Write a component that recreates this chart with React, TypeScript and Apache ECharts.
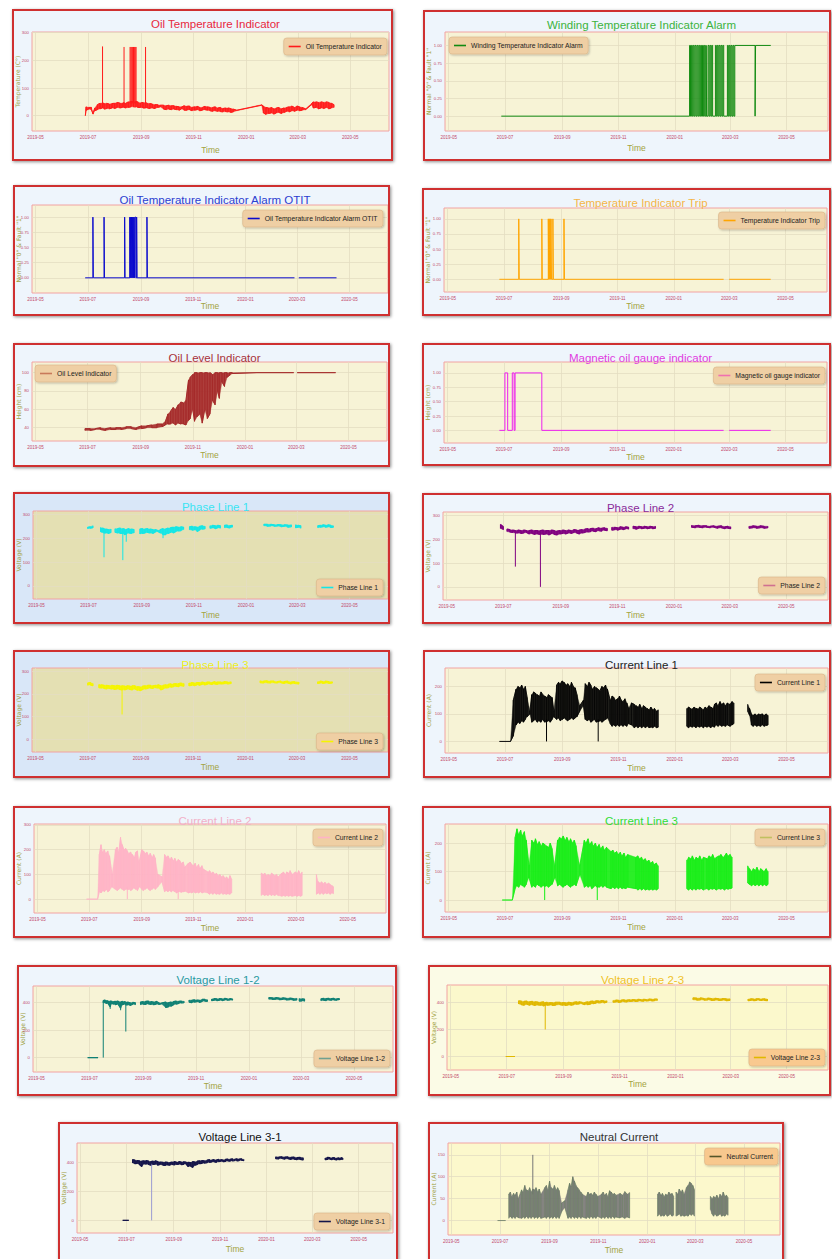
import React, { useEffect, useRef } from 'react';
import * as echarts from 'echarts';

// ---------- axis ticks ----------
const xTickDates = ['2019-05-01', '2019-07-01', '2019-09-01', '2019-11-01', '2020-01-01', '2020-03-01', '2020-05-01'];
const xMinDate = '2019-04-27';
const xMaxDate = '2020-06-15';
const binaryTicks = [0, 0.25, 0.5, 0.75, 1];
const tempTicks = [0, 100, 200, 300];
const levelTicks = [40, 60, 80, 100];
const phaseTicks = [0, 100, 200, 300];
const currentTicks = [0, 100, 200];
const current2Ticks = [0, 100, 200, 300];
const lineVoltTicks = [0, 200, 400];
const neutralTicks = [0, 50, 100, 150];

// ---------- data: bands are [date, low, high], null = gap; spikes are [date, from, to] ----------
const oilTempBand = [
  ['2019-06-28', 0, 0], ['2019-06-29', 20, 32], ['2019-07-02', 24, 30], ['2019-07-05', 22, 30], ['2019-07-07', 6, 10],
  ['2019-07-09', 18, 28], ['2019-07-12', 22, 40], ['2019-07-15', 25, 45], ['2019-07-18', 28, 46], ['2019-07-20', 24, 44],
  ['2019-07-23', 26, 45], ['2019-07-26', 25, 42], ['2019-07-29', 28, 44], ['2019-08-01', 26, 45], ['2019-08-04', 30, 48],
  ['2019-08-07', 28, 46], ['2019-08-10', 30, 45], ['2019-08-12', 30, 47], ['2019-08-14', 28, 45], ['2019-08-17', 30, 50],
  ['2019-08-20', 32, 52], ['2019-08-23', 32, 50], ['2019-08-26', 32, 52], ['2019-08-28', 30, 50], ['2019-08-31', 30, 46],
  ['2019-09-03', 28, 48], ['2019-09-06', 28, 47], ['2019-09-08', 28, 45], ['2019-09-11', 26, 44], ['2019-09-14', 28, 42],
  ['2019-09-17', 26, 40], ['2019-09-20', 30, 40], ['2019-09-23', 32, 38], ['2019-09-27', 24, 38], ['2019-09-30', 22, 36],
  ['2019-10-03', 24, 38], ['2019-10-06', 22, 36], ['2019-10-09', 24, 36], ['2019-10-12', 22, 34], ['2019-10-15', 20, 32],
  ['2019-10-18', 25, 32], ['2019-10-21', 20, 36], ['2019-10-24', 20, 34], ['2019-10-27', 22, 35], ['2019-10-30', 18, 30],
  ['2019-11-02', 20, 32], ['2019-11-05', 22, 34], ['2019-11-08', 18, 30], ['2019-11-11', 20, 30], ['2019-11-14', 22, 34],
  ['2019-11-17', 20, 32], ['2019-11-20', 18, 30], ['2019-11-23', 16, 30], ['2019-11-26', 18, 32], ['2019-11-29', 16, 28],
  ['2019-12-02', 15, 30], ['2019-12-05', 14, 26], ['2019-12-08', 15, 28], ['2019-12-11', 14, 28], ['2019-12-14', 12, 26],
  ['2019-12-17', 14, 24], ['2019-12-21', 18, 20], ['2020-01-19', 38, 40], ['2020-01-21', 10, 35], ['2020-01-24', 5, 30],
  ['2020-01-27', 8, 28], ['2020-01-30', 10, 30], ['2020-02-02', 6, 25], ['2020-02-05', 10, 28], ['2020-02-08', 12, 30],
  ['2020-02-11', 8, 25], ['2020-02-14', 12, 28], ['2020-02-17', 16, 30], ['2020-02-20', 14, 32], ['2020-02-23', 18, 35],
  ['2020-02-26', 16, 30], ['2020-02-29', 20, 35], ['2020-03-03', 18, 32], ['2020-03-06', 20, 30], ['2020-03-10', 22, 25],
  ['2020-03-17', 40, 44], ['2020-03-19', 28, 50], ['2020-03-22', 30, 50], ['2020-03-25', 25, 48], ['2020-03-28', 28, 50],
  ['2020-03-31', 26, 48], ['2020-04-03', 30, 50], ['2020-04-06', 25, 48], ['2020-04-09', 28, 45], ['2020-04-12', 30, 40],
];
const oilTempSpikes = [
  ['2019-07-18', 40, 250], ['2019-08-12', 42, 248], ['2019-08-19', 45, 248], ['2019-08-20', 45, 248],
  ['2019-08-21', 45, 248], ['2019-08-22', 45, 248], ['2019-08-23', 45, 248], ['2019-08-24', 45, 248],
  ['2019-08-25', 45, 248], ['2019-08-26', 45, 248], ['2019-09-06', 42, 248],
];

const oilLevelBand = [
  ['2019-06-28', 37, 39], ['2019-07-04', 37, 39], ['2019-07-10', 38, 39], ['2019-07-16', 38, 40], ['2019-07-22', 37, 39],
  ['2019-07-28', 38, 40], ['2019-08-03', 38, 40], ['2019-08-09', 38, 40], ['2019-08-15', 39, 41], ['2019-08-21', 39, 41],
  ['2019-08-27', 38, 40], ['2019-09-02', 39, 42], ['2019-09-08', 40, 42], ['2019-09-14', 40, 43], ['2019-09-20', 40, 44],
  ['2019-09-26', 41, 44], ['2019-09-30', 43, 47], ['2019-10-03', 44, 55], ['2019-10-06', 44, 58], ['2019-10-09', 45, 62],
  ['2019-10-12', 43, 60], ['2019-10-15', 45, 65], ['2019-10-18', 44, 68], ['2019-10-21', 44, 67], ['2019-10-24', 43, 70],
  ['2019-10-27', 48, 92], ['2019-10-29', 50, 95], ['2019-11-01', 60, 98], ['2019-11-03', 47, 100], ['2019-11-06', 52, 100],
  ['2019-11-09', 55, 100], ['2019-11-12', 45, 100], ['2019-11-15', 60, 100], ['2019-11-18', 50, 100], ['2019-11-21', 55, 100],
  ['2019-11-24', 70, 98], ['2019-11-27', 65, 100], ['2019-11-30', 80, 100], ['2019-12-02', 72, 100], ['2019-12-05', 90, 100],
  ['2019-12-08', 85, 100], ['2019-12-11', 95, 100], ['2019-12-14', 97, 100], ['2019-12-17', 99, 100], ['2020-01-15', 100, 100],
  ['2020-02-27', 100, 100], null, ['2020-03-02', 100, 100], ['2020-04-16', 100, 100],
];

const phase1Band = [
  ['2019-06-30', 240, 246], ['2019-07-03', 242, 248], ['2019-07-06', 244, 252], null,
  ['2019-07-15', 228, 245], ['2019-07-17', 225, 242], ['2019-07-19', 222, 240], ['2019-07-21', 222, 238], ['2019-07-24', 220, 236],
  ['2019-07-27', 224, 238], null,
  ['2019-08-01', 225, 240], ['2019-08-04', 222, 240], ['2019-08-07', 220, 242], ['2019-08-10', 220, 240], ['2019-08-12', 215, 238],
  ['2019-08-14', 218, 236], ['2019-08-17', 222, 240], ['2019-08-20', 220, 238], ['2019-08-23', 222, 236], null,
  ['2019-08-30', 218, 238], ['2019-09-02', 220, 240], ['2019-09-05', 222, 238], ['2019-09-08', 224, 240], ['2019-09-11', 222, 238],
  ['2019-09-14', 220, 236], ['2019-09-17', 226, 236], ['2019-09-20', 228, 232], ['2019-09-23', 222, 236], ['2019-09-26', 215, 240],
  ['2019-09-29', 215, 238], ['2019-10-02', 220, 242], ['2019-10-05', 225, 244], ['2019-10-08', 222, 246], ['2019-10-11', 228, 248],
  ['2019-10-14', 230, 246], ['2019-10-17', 232, 248], ['2019-10-20', 236, 246], null,
  ['2019-10-27', 235, 248], ['2019-10-30', 234, 250], ['2019-11-02', 236, 248], ['2019-11-05', 228, 246], ['2019-11-08', 235, 250],
  ['2019-11-11', 238, 252], ['2019-11-14', 240, 250], null,
  ['2019-11-20', 242, 252], ['2019-11-23', 244, 254], ['2019-11-26', 240, 252], ['2019-11-29', 244, 254], ['2019-12-02', 242, 252], null,
  ['2019-12-07', 244, 254], ['2019-12-10', 245, 255], ['2019-12-13', 243, 252], ['2019-12-16', 246, 254], null,
  ['2020-01-22', 252, 258], ['2020-01-26', 250, 258], ['2020-01-30', 252, 258], ['2020-02-03', 250, 256], ['2020-02-07', 251, 257],
  ['2020-02-11', 248, 256], ['2020-02-15', 250, 256], ['2020-02-19', 246, 255], ['2020-02-23', 248, 256], null,
  ['2020-02-28', 244, 256], ['2020-03-02', 246, 254], ['2020-03-05', 242, 252], null,
  ['2020-03-25', 244, 252], ['2020-03-28', 246, 254], ['2020-03-31', 248, 256], ['2020-04-03', 246, 254], ['2020-04-06', 248, 256],
  ['2020-04-09', 245, 254], ['2020-04-12', 246, 252],
];
const phase1Spikes = [['2019-07-19', 230, 120], ['2019-08-10', 230, 108], ['2019-08-14', 228, 185], ['2019-09-26', 225, 200]];

const phase2Band = [
  ['2019-06-28', 245, 262], ['2019-07-01', 240, 252], null,
  ['2019-07-05', 232, 242], ['2019-07-08', 230, 240], ['2019-07-11', 228, 238], ['2019-07-14', 226, 236], ['2019-07-17', 226, 238],
  ['2019-07-20', 224, 236], ['2019-07-23', 226, 238], ['2019-07-26', 228, 236], ['2019-07-29', 222, 236], ['2019-08-01', 224, 238],
  ['2019-08-04', 220, 236], ['2019-08-07', 222, 236], ['2019-08-10', 220, 236], ['2019-08-13', 220, 238], ['2019-08-16', 222, 236],
  ['2019-08-19', 218, 236], ['2019-08-22', 224, 238], ['2019-08-25', 220, 236], ['2019-08-28', 218, 234], ['2019-08-31', 222, 236],
  ['2019-09-03', 224, 238], ['2019-09-06', 222, 236], ['2019-09-09', 226, 238], ['2019-09-12', 224, 236], ['2019-09-15', 228, 240],
  ['2019-09-18', 226, 238], ['2019-09-21', 222, 238], ['2019-09-24', 226, 240], ['2019-09-27', 228, 242], ['2019-09-30', 230, 244],
  ['2019-10-03', 232, 244], ['2019-10-06', 234, 246], ['2019-10-09', 232, 244], ['2019-10-12', 236, 248], ['2019-10-15', 234, 246],
  ['2019-10-18', 238, 248], ['2019-10-21', 236, 246], null,
  ['2019-10-26', 238, 250], ['2019-10-29', 240, 250], ['2019-11-01', 238, 248], ['2019-11-04', 242, 252], ['2019-11-07', 240, 250],
  ['2019-11-10', 244, 252], ['2019-11-13', 242, 250], null,
  ['2019-11-18', 244, 254], ['2019-11-21', 242, 252], ['2019-11-24', 246, 254], ['2019-11-27', 244, 252], ['2019-11-30', 246, 254],
  ['2019-12-03', 244, 252], ['2019-12-06', 246, 254], ['2019-12-09', 244, 252], ['2019-12-12', 246, 254], null,
  ['2020-01-20', 250, 258], ['2020-01-24', 248, 256], ['2020-01-28', 250, 258], ['2020-02-01', 248, 256], ['2020-02-05', 250, 256],
  ['2020-02-09', 248, 254], ['2020-02-13', 250, 256], ['2020-02-17', 246, 254], ['2020-02-21', 248, 256], ['2020-02-25', 244, 252],
  ['2020-02-28', 246, 254], ['2020-03-02', 244, 252], null,
  ['2020-03-22', 246, 254], ['2020-03-26', 248, 256], ['2020-03-30', 246, 254], ['2020-04-03', 248, 256], ['2020-04-07', 246, 254],
  ['2020-04-11', 248, 254],
];
const phase2Spikes = [['2019-07-14', 232, 85], ['2019-08-10', 228, 0]];

const phase3Band = [
  ['2019-07-01', 238, 248], ['2019-07-04', 240, 250], ['2019-07-07', 236, 246], null,
  ['2019-07-14', 228, 242], ['2019-07-17', 226, 240], ['2019-07-20', 224, 238], ['2019-07-23', 222, 238], ['2019-07-26', 224, 236],
  ['2019-07-29', 222, 238], ['2019-08-01', 220, 236], ['2019-08-04', 222, 238], ['2019-08-07', 220, 236], ['2019-08-10', 218, 236],
  ['2019-08-13', 218, 234], ['2019-08-16', 222, 236], ['2019-08-19', 220, 234], ['2019-08-22', 218, 236], ['2019-08-25', 222, 236],
  ['2019-08-28', 216, 232], ['2019-08-31', 214, 230], ['2019-09-03', 220, 234], ['2019-09-06', 222, 236], ['2019-09-09', 224, 238],
  ['2019-09-12', 226, 238], ['2019-09-15', 224, 236], ['2019-09-18', 228, 238], ['2019-09-21', 226, 240], ['2019-09-24', 218, 236],
  ['2019-09-27', 222, 238], ['2019-09-30', 226, 240], ['2019-10-03', 228, 242], ['2019-10-06', 230, 244], ['2019-10-09', 232, 244],
  ['2019-10-12', 234, 246], ['2019-10-15', 232, 246], ['2019-10-18', 236, 248], ['2019-10-21', 234, 246], null,
  ['2019-10-27', 236, 248], ['2019-10-30', 238, 250], ['2019-11-02', 236, 248], ['2019-11-05', 240, 250], ['2019-11-08', 238, 250],
  ['2019-11-11', 242, 252], ['2019-11-14', 240, 250], ['2019-11-17', 242, 252], ['2019-11-20', 244, 252], ['2019-11-23', 242, 250],
  ['2019-11-26', 244, 254], ['2019-11-29', 242, 252], ['2019-12-03', 244, 252], ['2019-12-07', 245, 254], ['2019-12-11', 244, 252],
  ['2019-12-15', 246, 254], null,
  ['2020-01-18', 250, 258], ['2020-01-22', 248, 256], ['2020-01-26', 250, 258], ['2020-01-30', 248, 256], ['2020-02-03', 250, 256],
  ['2020-02-07', 248, 254], ['2020-02-11', 250, 256], ['2020-02-15', 246, 254], ['2020-02-19', 248, 256], ['2020-02-23', 244, 252],
  ['2020-02-27', 246, 254], ['2020-03-03', 244, 252], null,
  ['2020-03-25', 246, 254], ['2020-03-28', 248, 256], ['2020-03-31', 246, 254], ['2020-04-03', 248, 256], ['2020-04-07', 246, 254],
  ['2020-04-11', 248, 254],
];
const phase3Spikes = [['2019-08-10', 225, 110]];

const current1Band = [
  ['2019-06-25', 0, 0], ['2019-07-07', 0, 0], ['2019-07-10', 20, 150], ['2019-07-13', 60, 190], ['2019-07-15', 70, 200],
  ['2019-07-17', 65, 195], ['2019-07-19', 75, 205], ['2019-07-21', 70, 190], ['2019-07-23', 80, 200], ['2019-07-25', 90, 160],
  ['2019-07-28', 100, 110], ['2019-07-30', 70, 170], ['2019-08-01', 75, 180], ['2019-08-03', 80, 175], ['2019-08-05', 70, 170],
  ['2019-08-07', 75, 165], ['2019-08-09', 70, 180], ['2019-08-11', 80, 170], ['2019-08-13', 70, 165], ['2019-08-15', 72, 160],
  ['2019-08-17', 75, 170], ['2019-08-19', 70, 165], ['2019-08-21', 80, 160], ['2019-08-23', 90, 110], ['2019-08-26', 80, 205],
  ['2019-08-28', 85, 215], ['2019-08-30', 75, 210], ['2019-09-01', 80, 220], ['2019-09-03', 85, 215], ['2019-09-05', 80, 205],
  ['2019-09-07', 75, 210], ['2019-09-09', 80, 200], ['2019-09-11', 85, 215], ['2019-09-13', 80, 200], ['2019-09-15', 85, 195],
  ['2019-09-17', 90, 170], ['2019-09-20', 110, 130], ['2019-09-24', 130, 150], ['2019-09-26', 80, 210], ['2019-09-28', 75, 200],
  ['2019-09-30', 80, 215], ['2019-10-02', 70, 205], ['2019-10-04', 75, 190], ['2019-10-06', 80, 200], ['2019-10-08', 70, 195],
  ['2019-10-10', 72, 190], ['2019-10-12', 75, 185], ['2019-10-14', 70, 200], ['2019-10-16', 75, 195], ['2019-10-18', 80, 205],
  ['2019-10-20', 85, 190], ['2019-10-23', 65, 150], ['2019-10-25', 55, 165], ['2019-10-27', 60, 160], ['2019-10-29', 55, 150],
  ['2019-10-31', 60, 155], ['2019-11-02', 55, 165], ['2019-11-04', 60, 150], ['2019-11-06', 55, 145], ['2019-11-08', 60, 155],
  ['2019-11-10', 55, 140], ['2019-11-12', 65, 120], ['2019-11-15', 60, 140], ['2019-11-18', 50, 135], ['2019-11-20', 55, 130],
  ['2019-11-22', 50, 125], ['2019-11-24', 55, 135], ['2019-11-26', 50, 120], ['2019-11-28', 55, 130], ['2019-11-30', 50, 125],
  ['2019-12-02', 55, 120], ['2019-12-04', 50, 115], ['2019-12-06', 52, 125], ['2019-12-08', 50, 115], ['2019-12-10', 55, 120],
  ['2019-12-12', 50, 110], ['2019-12-14', 52, 115], null,
  ['2020-01-14', 55, 120], ['2020-01-16', 50, 125], ['2020-01-18', 55, 120], ['2020-01-20', 52, 118], ['2020-01-22', 55, 125],
  ['2020-01-24', 50, 120], ['2020-01-26', 55, 118], ['2020-01-28', 52, 125], ['2020-01-30', 55, 120], ['2020-02-01', 50, 115],
  ['2020-02-03', 55, 125], ['2020-02-05', 52, 120], ['2020-02-07', 55, 130], ['2020-02-09', 50, 125], ['2020-02-11', 55, 120],
  ['2020-02-13', 52, 135], ['2020-02-15', 60, 140], ['2020-02-17', 55, 130], ['2020-02-19', 60, 145], ['2020-02-21', 55, 135],
  ['2020-02-23', 58, 140], ['2020-02-25', 55, 130], ['2020-02-27', 60, 140], ['2020-03-01', 55, 135], ['2020-03-03', 60, 145],
  ['2020-03-05', 65, 140], null,
  ['2020-03-20', 110, 135], ['2020-03-22', 95, 120], ['2020-03-24', 60, 100], ['2020-03-26', 55, 95], ['2020-03-28', 60, 100],
  ['2020-03-30', 55, 95], ['2020-04-01', 58, 100], ['2020-04-03', 55, 98], ['2020-04-05', 60, 100], ['2020-04-07', 55, 95],
  ['2020-04-09', 58, 100], ['2020-04-11', 60, 95],
];
const current1Spikes = [['2019-08-15', 80, 0], ['2019-10-10', 80, 0]];

const current2Band = [
  ['2019-06-28', 0, 0], ['2019-07-11', 0, 0], ['2019-07-13', 30, 180], ['2019-07-15', 25, 220], ['2019-07-17', 35, 190],
  ['2019-07-19', 30, 200], ['2019-07-21', 40, 185], ['2019-07-23', 30, 195], ['2019-07-25', 35, 175], ['2019-07-28', 50, 100],
  ['2019-08-01', 40, 200], ['2019-08-03', 35, 210], ['2019-08-05', 40, 190], ['2019-08-07', 45, 250], ['2019-08-09', 40, 220],
  ['2019-08-11', 35, 200], ['2019-08-13', 40, 205], ['2019-08-15', 40, 195], ['2019-08-17', 40, 185], ['2019-08-19', 35, 190],
  ['2019-08-21', 40, 180], ['2019-08-23', 45, 170], ['2019-08-25', 40, 190], ['2019-08-27', 35, 195], ['2019-08-29', 50, 150],
  ['2019-09-01', 40, 200], ['2019-09-03', 35, 195], ['2019-09-05', 40, 185], ['2019-09-07', 45, 190], ['2019-09-09', 40, 175],
  ['2019-09-11', 35, 185], ['2019-09-13', 40, 170], ['2019-09-15', 45, 180], ['2019-09-17', 40, 165], ['2019-09-20', 50, 100],
  ['2019-09-25', 70, 90], ['2019-09-28', 30, 180], ['2019-09-30', 35, 170], ['2019-10-02', 30, 175], ['2019-10-04', 35, 160],
  ['2019-10-06', 30, 170], ['2019-10-08', 35, 155], ['2019-10-10', 30, 165], ['2019-10-12', 25, 150], ['2019-10-14', 30, 160],
  ['2019-10-16', 30, 155], ['2019-10-18', 28, 145], ['2019-10-20', 30, 150], ['2019-10-22', 32, 130], ['2019-10-26', 25, 145],
  ['2019-10-28', 28, 150], ['2019-10-30', 25, 140], ['2019-11-01', 30, 135], ['2019-11-03', 25, 145], ['2019-11-05', 28, 130],
  ['2019-11-07', 25, 140], ['2019-11-09', 30, 125], ['2019-11-11', 25, 135], ['2019-11-13', 28, 120], ['2019-11-18', 25, 110],
  ['2019-11-20', 20, 115], ['2019-11-22', 25, 105], ['2019-11-24', 20, 110], ['2019-11-26', 25, 100], ['2019-11-28', 20, 105],
  ['2019-11-30', 22, 95], ['2019-12-02', 20, 100], ['2019-12-04', 25, 90], ['2019-12-06', 20, 95], ['2019-12-08', 22, 85],
  ['2019-12-10', 20, 90], ['2019-12-12', 22, 80], ['2019-12-14', 20, 95], ['2019-12-16', 25, 80], null,
  ['2020-01-20', 15, 105], ['2020-01-22', 20, 100], ['2020-01-24', 15, 105], ['2020-01-26', 18, 95], ['2020-01-28', 15, 100],
  ['2020-01-30', 20, 95], ['2020-02-01', 15, 105], ['2020-02-03', 18, 100], ['2020-02-05', 15, 95], ['2020-02-07', 20, 100],
  ['2020-02-09', 15, 90], ['2020-02-13', 12, 105], ['2020-02-15', 15, 110], ['2020-02-17', 12, 100], ['2020-02-19', 15, 110],
  ['2020-02-21', 12, 105], ['2020-02-23', 15, 115], ['2020-02-25', 12, 100], ['2020-02-29', 15, 110], ['2020-03-02', 12, 105],
  ['2020-03-04', 15, 115], ['2020-03-06', 12, 100], ['2020-03-08', 15, 110], null,
  ['2020-03-25', 20, 100], ['2020-03-27', 25, 70], ['2020-03-29', 20, 65], ['2020-03-31', 25, 70], ['2020-04-02', 20, 62],
  ['2020-04-04', 25, 68], ['2020-04-06', 22, 60], ['2020-04-08', 25, 65], ['2020-04-10', 20, 60], ['2020-04-12', 25, 55],
  ['2020-04-14', 22, 50],
];
const current2Spikes = [['2019-08-15', 50, 0], ['2019-10-14', 40, 0]];

const current3Band = [
  ['2019-06-28', 0, 0], ['2019-07-09', 0, 0], ['2019-07-12', 40, 220], ['2019-07-14', 50, 250], ['2019-07-16', 45, 230],
  ['2019-07-18', 55, 245], ['2019-07-20', 50, 225], ['2019-07-22', 45, 240], ['2019-07-24', 55, 210], ['2019-07-27', 80, 120],
  ['2019-07-30', 45, 210], ['2019-08-01', 50, 200], ['2019-08-03', 45, 215], ['2019-08-05', 55, 195], ['2019-08-07', 50, 205],
  ['2019-08-09', 45, 190], ['2019-08-11', 50, 200], ['2019-08-13', 48, 195], ['2019-08-15', 50, 190], ['2019-08-17', 45, 185],
  ['2019-08-19', 50, 200], ['2019-08-21', 55, 180], ['2019-08-24', 80, 120], ['2019-08-27', 50, 210], ['2019-08-29', 55, 220],
  ['2019-08-31', 50, 215], ['2019-09-02', 45, 225], ['2019-09-04', 50, 210], ['2019-09-06', 55, 220], ['2019-09-08', 50, 205],
  ['2019-09-10', 45, 215], ['2019-09-12', 50, 200], ['2019-09-14', 55, 210], ['2019-09-16', 50, 190], ['2019-09-20', 90, 120],
  ['2019-09-25', 45, 210], ['2019-09-27', 50, 200], ['2019-09-29', 45, 215], ['2019-10-01', 50, 195], ['2019-10-03', 40, 205],
  ['2019-10-05', 45, 190], ['2019-10-07', 50, 200], ['2019-10-09', 45, 185], ['2019-10-11', 45, 195], ['2019-10-13', 50, 180],
  ['2019-10-15', 45, 190], ['2019-10-17', 50, 175], ['2019-10-19', 45, 185], ['2019-10-24', 40, 170], ['2019-10-26', 45, 175],
  ['2019-10-28', 40, 165], ['2019-10-30', 45, 170], ['2019-11-01', 40, 160], ['2019-11-03', 45, 168], ['2019-11-05', 40, 155],
  ['2019-11-07', 42, 165], ['2019-11-09', 40, 150], ['2019-11-11', 45, 160], ['2019-11-20', 40, 150], ['2019-11-22', 35, 155],
  ['2019-11-24', 40, 145], ['2019-11-26', 35, 150], ['2019-11-28', 40, 140], ['2019-11-30', 35, 145], ['2019-12-02', 38, 135],
  ['2019-12-04', 35, 140], ['2019-12-06', 38, 130], ['2019-12-08', 35, 135], ['2019-12-10', 38, 125], ['2019-12-12', 35, 130],
  ['2019-12-14', 40, 120], null,
  ['2020-01-14', 40, 140], ['2020-01-16', 35, 150], ['2020-01-18', 40, 145], ['2020-01-20', 35, 155], ['2020-01-22', 40, 140],
  ['2020-01-24', 35, 150], ['2020-01-26', 40, 145], ['2020-01-28', 38, 155], ['2020-01-30', 40, 140], ['2020-02-01', 35, 150],
  ['2020-02-05', 40, 145], ['2020-02-07', 35, 155], ['2020-02-09', 40, 150], ['2020-02-11', 38, 160], ['2020-02-13', 40, 145],
  ['2020-02-15', 35, 150], ['2020-02-18', 40, 155], ['2020-02-20', 38, 160], ['2020-02-22', 40, 150], ['2020-02-24', 35, 155],
  ['2020-02-26', 40, 165], ['2020-02-28', 38, 155], ['2020-03-01', 40, 160], ['2020-03-03', 42, 150], null,
  ['2020-03-20', 60, 120], ['2020-03-22', 55, 110], ['2020-03-24', 50, 100], ['2020-03-26', 55, 110], ['2020-03-28', 50, 105],
  ['2020-03-30', 55, 115], ['2020-04-01', 50, 100], ['2020-04-03', 55, 110], ['2020-04-05', 50, 105], ['2020-04-07', 55, 100],
  ['2020-04-09', 50, 110], ['2020-04-11', 55, 100],
];
const current3Spikes = [['2019-08-13', 60, 0], ['2019-10-09', 55, 0]];

const volt12Band = [
  ['2019-06-29', 0, 0], ['2019-07-11', 0, 0], null,
  ['2019-07-17', 400, 415], ['2019-07-19', 400, 420], ['2019-07-21', 395, 415], ['2019-07-23', 390, 410], ['2019-07-25', 370, 412],
  ['2019-07-27', 395, 410], ['2019-07-29', 390, 408], ['2019-07-31', 385, 410], ['2019-08-02', 390, 412], ['2019-08-04', 380, 408],
  ['2019-08-06', 360, 405], ['2019-08-08', 385, 410], ['2019-08-10', 390, 408], ['2019-08-12', 385, 405], ['2019-08-14', 385, 405],
  ['2019-08-17', 380, 400], ['2019-08-20', 390, 402], ['2019-08-23', 385, 400], null,
  ['2019-08-29', 385, 405], ['2019-09-01', 390, 408], ['2019-09-04', 388, 410], ['2019-09-07', 392, 412], ['2019-09-10', 388, 408],
  ['2019-09-13', 385, 405], ['2019-09-16', 390, 410], ['2019-09-19', 388, 400], ['2019-09-22', 392, 398], ['2019-09-27', 365, 405],
  ['2019-09-30', 370, 400], ['2019-10-03', 375, 405], ['2019-10-06', 385, 408], ['2019-10-09', 390, 412], ['2019-10-12', 395, 410],
  ['2019-10-15', 398, 412], ['2019-10-18', 400, 410], null,
  ['2019-10-24', 405, 420], ['2019-10-27', 400, 418], ['2019-10-30', 405, 422], ['2019-11-02', 408, 420], ['2019-11-05', 402, 418],
  ['2019-11-08', 410, 424], ['2019-11-11', 412, 425], ['2019-11-14', 410, 422], null,
  ['2019-11-19', 415, 428], ['2019-11-22', 418, 430], ['2019-11-25', 415, 428], ['2019-11-28', 418, 430], ['2019-12-01', 416, 428],
  ['2019-12-04', 420, 432], ['2019-12-07', 418, 428], ['2019-12-10', 420, 430], ['2019-12-13', 418, 426], null,
  ['2020-01-24', 425, 438], ['2020-01-28', 424, 436], ['2020-02-01', 426, 438], ['2020-02-05', 422, 434], ['2020-02-09', 424, 436],
  ['2020-02-13', 420, 432], ['2020-02-17', 422, 434], ['2020-02-21', 418, 430], ['2020-02-25', 420, 432], null,
  ['2020-02-28', 412, 430], ['2020-03-02', 414, 428], ['2020-03-05', 410, 426], null,
  ['2020-03-24', 415, 428], ['2020-03-27', 418, 432], ['2020-03-30', 416, 430], ['2020-04-02', 420, 432], ['2020-04-05', 418, 430],
  ['2020-04-08', 420, 432], ['2020-04-11', 418, 428], ['2020-04-14', 420, 430],
];
const volt12Spikes = [['2019-07-17', 0, 410], ['2019-08-12', 400, 190], ['2019-07-25', 405, 355], ['2019-08-06', 400, 345]];

const volt23Band = [
  ['2019-06-30', 0, 0], ['2019-07-10', 0, 0], null,
  ['2019-07-14', 390, 412], ['2019-07-17', 385, 410], ['2019-07-20', 380, 408], ['2019-07-23', 388, 410], ['2019-07-26', 380, 405],
  ['2019-07-29', 385, 408], ['2019-08-01', 378, 405], ['2019-08-04', 382, 404], ['2019-08-07', 380, 402], ['2019-08-10', 375, 405],
  ['2019-08-12', 380, 400], ['2019-08-14', 380, 402], ['2019-08-17', 382, 400], ['2019-08-20', 378, 398], ['2019-08-23', 380, 402],
  ['2019-08-28', 385, 402], ['2019-08-31', 380, 400], ['2019-09-03', 378, 398], ['2019-09-06', 382, 402], ['2019-09-09', 380, 400],
  ['2019-09-12', 385, 402], ['2019-09-15', 388, 405], ['2019-09-18', 390, 405], ['2019-09-21', 392, 402], ['2019-09-24', 385, 400],
  ['2019-09-27', 385, 405], ['2019-09-30', 388, 408], ['2019-10-03', 392, 410], ['2019-10-06', 395, 412], ['2019-10-09', 398, 412],
  ['2019-10-12', 400, 415], ['2019-10-15', 398, 412], ['2019-10-18', 402, 414], null,
  ['2019-10-25', 402, 416], ['2019-10-28', 404, 418], ['2019-10-31', 400, 416], ['2019-11-03', 405, 418], ['2019-11-06', 406, 420],
  ['2019-11-09', 404, 418], ['2019-11-12', 408, 420], ['2019-11-15', 410, 422], ['2019-11-18', 408, 420], ['2019-11-21', 410, 424],
  ['2019-11-24', 412, 422], ['2019-11-27', 410, 424], ['2019-11-30', 412, 422], ['2019-12-03', 414, 426], ['2019-12-06', 412, 424],
  ['2019-12-09', 414, 426], ['2019-12-12', 415, 425], null,
  ['2020-01-20', 420, 434], ['2020-01-24', 418, 432], ['2020-01-28', 420, 434], ['2020-02-01', 418, 430], ['2020-02-05', 420, 432],
  ['2020-02-09', 416, 430], ['2020-02-13', 418, 432], ['2020-02-17', 415, 428], ['2020-02-21', 418, 430], ['2020-02-25', 414, 428],
  ['2020-02-29', 416, 428], null,
  ['2020-03-20', 414, 426], ['2020-03-23', 416, 428], ['2020-03-26', 414, 426], ['2020-03-29', 416, 428], ['2020-04-01', 418, 428],
  ['2020-04-04', 415, 426], ['2020-04-07', 416, 428], ['2020-04-10', 414, 426],
];
const volt23Spikes = [['2019-08-12', 395, 200]];

const volt31Band = [
  ['2019-06-26', 0, 0], ['2019-07-04', 0, 0], null,
  ['2019-07-09', 395, 418], ['2019-07-12', 390, 415], ['2019-07-15', 392, 412], ['2019-07-18', 385, 410], ['2019-07-21', 370, 408],
  ['2019-07-24', 390, 410], ['2019-07-27', 388, 412], ['2019-07-30', 385, 408], ['2019-08-02', 380, 405], ['2019-08-05', 385, 408],
  ['2019-08-08', 388, 410], ['2019-08-11', 380, 405], ['2019-08-14', 385, 402], ['2019-08-18', 380, 400], ['2019-08-21', 378, 402],
  ['2019-08-24', 382, 400], ['2019-08-27', 380, 398], ['2019-08-30', 385, 402], ['2019-09-02', 382, 405], ['2019-09-05', 385, 400],
  ['2019-09-08', 388, 405], ['2019-09-11', 384, 402], ['2019-09-14', 386, 404], ['2019-09-17', 390, 402], ['2019-09-20', 370, 400],
  ['2019-09-23', 375, 398], ['2019-09-26', 365, 405], ['2019-09-29', 380, 402], ['2019-10-02', 385, 408], ['2019-10-05', 390, 410],
  ['2019-10-08', 392, 412], ['2019-10-11', 395, 410], ['2019-10-15', 398, 415], ['2019-10-18', 400, 418], ['2019-10-21', 402, 415],
  ['2019-10-24', 404, 418], ['2019-10-27', 400, 416], ['2019-10-30', 405, 420], ['2019-11-02', 408, 418], ['2019-11-05', 404, 416],
  ['2019-11-08', 406, 420], ['2019-11-11', 410, 422], ['2019-11-14', 408, 420], ['2019-11-17', 410, 424], ['2019-11-20', 412, 420],
  ['2019-11-23', 410, 424], ['2019-11-26', 412, 422], ['2019-11-29', 414, 424], ['2019-12-02', 412, 420], null,
  ['2020-01-13', 425, 438], ['2020-01-17', 424, 436], ['2020-01-21', 426, 438], ['2020-01-25', 422, 436], ['2020-01-29', 425, 437],
  ['2020-02-02', 420, 434], ['2020-02-06', 422, 436], ['2020-02-10', 418, 432], ['2020-02-14', 420, 434], ['2020-02-18', 416, 432], null,
  ['2020-03-18', 418, 430], ['2020-03-21', 420, 434], ['2020-03-24', 422, 432], ['2020-03-27', 418, 430], ['2020-03-30', 420, 432],
  ['2020-04-02', 416, 428], ['2020-04-05', 418, 430], ['2020-04-08', 420, 432], ['2020-04-10', 418, 428],
];
const volt31Spikes = [['2019-08-03', 390, 0]];

const neutralBand = [
  ['2019-06-28', 0, 0], ['2019-07-08', 0, 0], null,
  ['2019-07-12', 5, 60], ['2019-07-14', 10, 65], ['2019-07-16', 5, 55], ['2019-07-18', 8, 62], ['2019-07-20', 5, 58],
  ['2019-07-22', 10, 65], ['2019-07-24', 6, 50], ['2019-07-28', 5, 70], ['2019-07-30', 8, 65], ['2019-08-01', 5, 80],
  ['2019-08-03', 10, 70], ['2019-08-05', 5, 68], ['2019-08-07', 8, 75], ['2019-08-09', 5, 65], ['2019-08-11', 10, 72],
  ['2019-08-13', 5, 70], ['2019-08-15', 8, 75], ['2019-08-17', 5, 65], ['2019-08-19', 10, 72], ['2019-08-21', 5, 60],
  ['2019-08-26', 8, 75], ['2019-08-28', 5, 80], ['2019-08-30', 10, 70], ['2019-09-01', 5, 90], ['2019-09-03', 8, 75],
  ['2019-09-05', 5, 72], ['2019-09-07', 10, 80], ['2019-09-09', 5, 70], ['2019-09-11', 8, 75], ['2019-09-13', 5, 68],
  ['2019-09-16', 20, 40], ['2019-09-20', 30, 45], ['2019-09-24', 5, 70], ['2019-09-26', 8, 85], ['2019-09-28', 5, 78],
  ['2019-09-30', 10, 100], ['2019-10-02', 5, 90], ['2019-10-04', 8, 80], ['2019-10-06', 5, 75], ['2019-10-08', 10, 70],
  ['2019-10-10', 5, 65], ['2019-10-12', 8, 60], ['2019-10-17', 5, 55], ['2019-10-19', 8, 65], ['2019-10-21', 5, 60],
  ['2019-10-23', 10, 62], ['2019-10-25', 5, 58], ['2019-10-27', 8, 65], ['2019-10-29', 5, 60], ['2019-10-31', 10, 55],
  ['2019-11-05', 5, 60], ['2019-11-07', 8, 65], ['2019-11-09', 5, 58], ['2019-11-11', 10, 62], ['2019-11-13', 5, 55],
  ['2019-11-15', 8, 68], ['2019-11-17', 5, 65], ['2019-11-19', 10, 60], ['2019-11-21', 5, 62], ['2019-11-23', 8, 58],
  ['2019-11-28', 6, 62], ['2019-12-01', 8, 58], ['2019-12-04', 5, 66], ['2019-12-07', 8, 60], ['2019-12-10', 6, 64], null,
  ['2020-01-14', 10, 60], ['2020-01-16', 15, 65], ['2020-01-18', 10, 58], ['2020-01-20', 12, 62], ['2020-01-22', 10, 55],
  ['2020-01-24', 15, 60], ['2020-01-26', 10, 58], ['2020-01-28', 12, 65], ['2020-01-30', 15, 60], ['2020-02-01', 10, 62],
  ['2020-02-03', 12, 55], null,
  ['2020-02-06', 10, 65], ['2020-02-08', 12, 60], ['2020-02-10', 15, 72], ['2020-02-12', 10, 65], ['2020-02-14', 12, 70],
  ['2020-02-16', 10, 60], ['2020-02-19', 12, 75], ['2020-02-21', 10, 80], ['2020-02-23', 15, 88], ['2020-02-25', 12, 85],
  ['2020-02-27', 15, 80], ['2020-02-29', 10, 70], null,
  ['2020-03-20', 25, 55], ['2020-03-22', 15, 50], ['2020-03-24', 10, 55], ['2020-03-26', 15, 52], ['2020-03-28', 10, 58],
  ['2020-03-30', 12, 50], ['2020-04-01', 15, 60], ['2020-04-03', 10, 55], ['2020-04-05', 12, 65], ['2020-04-07', 10, 55],
  ['2020-04-09', 15, 58], ['2020-04-11', 12, 52],
];
const neutralSpikes = [['2019-08-11', 60, 150]];

// ---------- data: binary signals as [date, state] change points, null = gap ----------
const windingAlarm = [
  ['2019-06-27', 0],
  ['2020-01-17', 1], ['2020-01-18', 0], ['2020-01-19', 1], ['2020-01-20', 0], ['2020-01-21', 1], ['2020-01-22', 0],
  ['2020-01-23', 1], ['2020-01-24', 0], ['2020-01-25', 1], ['2020-01-26', 0], ['2020-01-27', 1], ['2020-01-28', 0],
  ['2020-01-29', 1], ['2020-01-30', 0], ['2020-01-31', 1], ['2020-02-01', 0], ['2020-02-02', 1], ['2020-02-03', 0],
  ['2020-02-04', 1], ['2020-02-04 12:00', 0],
  ['2020-02-06', 1], ['2020-02-07', 0], ['2020-02-08', 1], ['2020-02-09', 0], ['2020-02-10', 1], ['2020-02-11', 0],
  ['2020-02-14', 1], ['2020-02-15', 0], ['2020-02-16', 1], ['2020-02-17', 0], ['2020-02-18', 1], ['2020-02-19', 0],
  ['2020-02-20', 1], ['2020-02-21', 0], ['2020-02-22', 1], ['2020-02-23', 0],
  ['2020-02-27', 1], ['2020-02-28', 0], ['2020-02-29', 1], ['2020-03-01', 0], ['2020-03-02', 1], ['2020-03-03', 0],
  ['2020-03-04', 1], ['2020-03-05', 0], ['2020-03-06', 1],
  ['2020-03-28', 0], ['2020-03-28 12:00', 1], ['2020-04-14', 1],
];

const otitAlarm = [
  ['2019-06-28', 0], ['2019-07-07', 1], ['2019-07-07 12:00', 0], ['2019-07-20', 1], ['2019-07-20 12:00', 0],
  ['2019-08-13', 1], ['2019-08-13 12:00', 0],
  ['2019-08-19', 1], ['2019-08-19 12:00', 0], ['2019-08-20', 1], ['2019-08-20 12:00', 0], ['2019-08-21', 1],
  ['2019-08-21 12:00', 0], ['2019-08-22', 1], ['2019-08-22 12:00', 0], ['2019-08-23', 1], ['2019-08-23 12:00', 0],
  ['2019-08-24', 1], ['2019-08-24 12:00', 0], ['2019-08-25', 1], ['2019-08-26', 0], ['2019-08-27', 1], ['2019-08-27 12:00', 0],
  ['2019-09-08', 1], ['2019-09-08 12:00', 0], ['2020-02-27', 0], null, ['2020-03-03', 0], ['2020-04-16', 0],
];

const tempTrip = [
  ['2019-06-26', 0], ['2019-07-17', 1], ['2019-07-17 12:00', 0], ['2019-08-11', 1], ['2019-08-11 12:00', 0],
  ['2019-08-18', 1], ['2019-08-18 12:00', 0], ['2019-08-19', 1], ['2019-08-19 12:00', 0], ['2019-08-20', 1],
  ['2019-08-20 12:00', 0], ['2019-08-21', 1], ['2019-08-21 12:00', 0], ['2019-08-23', 1], ['2019-08-23 12:00', 0],
  ['2019-09-04', 1], ['2019-09-04 12:00', 0], ['2020-02-24', 0], null, ['2020-03-01', 0], ['2020-04-15', 0],
];

const magneticGauge = [
  ['2019-06-26', 0], ['2019-07-02', 1], ['2019-07-05', 0], ['2019-07-10', 1], ['2019-07-12', 0], ['2019-07-13', 1],
  ['2019-08-11', 0], ['2020-02-24', 0], null, ['2020-03-01', 0], ['2020-04-15', 0],
];

// ---------- helpers ----------
const toTs = (s) => {
  const [d, t] = s.split(' ');
  const [y, m, dd] = d.split('-').map(Number);
  let h = 0, mi = 0;
  if (t) { [h, mi] = t.split(':').map(Number); }
  return new Date(y, m - 1, dd, h, mi).getTime();
};
const xTicks = xTickDates.map(toTs);
const HOUR = 3600000;

function bandPoints(band) {
  const out = [];
  let flip = false;
  let last = null;
  for (const e of band) {
    if (e === null) { if (last !== null) out.push([last + HOUR, null]); continue; }
    const t = toTs(e[0]);
    last = t;
    if (flip) out.push([t, e[2]], [t, e[1]]);
    else out.push([t, e[1]], [t, e[2]]);
    flip = !flip;
  }
  return out;
}

function fillData(band) {
  const out = [];
  let seg = 0;
  for (const e of band) {
    if (e === null) { seg += 1; continue; }
    out.push([toTs(e[0]), e[1], e[2], seg]);
  }
  return out;
}

function spikePoints(spikes) {
  const out = [];
  for (const s of spikes) {
    const t = toTs(s[0]);
    out.push([t, s[1]], [t, s[2]], [t + HOUR, null]);
  }
  return out;
}

function stepPoints(steps) {
  const out = [];
  let last = null;
  for (const e of steps) {
    if (e === null) { if (last !== null) out.push([last + HOUR, null]); continue; }
    const t = toTs(e[0]);
    last = t;
    out.push([t, e[1]]);
  }
  return out;
}

const fmtMonth = (v) => {
  const d = new Date(v);
  return d.getFullYear() + '-' + String(d.getMonth() + 1).padStart(2, '0');
};

const TFONT = "'Liberation Sans Narrow','Liberation Sans',Arial,sans-serif";

// ---------- panels ----------
const panels = [
  { name: 'Oil Temperature Indicator', color: '#ff1a1a', titleColor: '#e8283c', box: [12, 9, 381, 152], plot: [32, 32, 389, 131], tg: 19,
    yName: 'Temperature (C°)', yMin: -55, yMax: 302, yTicks: tempTicks, legend: ['tr', 387, 38],
    band: oilTempBand, spikes: oilTempSpikes, fill: 0.9, lw: 1 },
  { name: 'Winding Temperature Indicator Alarm', color: '#118a11', titleColor: '#3cb33c', box: [423, 10, 408, 151], plot: [445, 32, 828, 131], tg: 17,
    yName: 'Normal "0" & Fault "1"', yMin: -0.21, yMax: 1.19, yTicks: binaryTicks, bin: true, legend: ['tl', 449, 37], step: windingAlarm },
  { name: 'Oil Temperature Indicator Alarm OTIT', color: '#0a0acd', titleColor: '#2c40d0', box: [13, 185, 377, 131], plot: [32, 205, 388, 293], tg: 13,
    yName: 'Normal "0" & Fault "1"', yMin: -0.25, yMax: 1.2, yTicks: binaryTicks, bin: true, legend: ['tr', 383, 210], step: otitAlarm },
  { name: 'Temperature Indicator Trip', color: '#ffa500', titleColor: '#f5b548', box: [422, 188, 409, 128], plot: [444, 208, 827, 292], tg: 14,
    yName: 'Normal "0" & Fault "1"', yMin: -0.21, yMax: 1.18, yTicks: binaryTicks, bin: true, legend: ['tr', 825, 212], step: tempTrip },
  { name: 'Oil Level Indicator', color: '#a52a2a', titleColor: '#a8323a', box: [13, 343, 377, 124], plot: [32, 362, 387, 441], tg: 14,
    yName: 'Height (cm)', yMin: 25.5, yMax: 111.6, yTicks: levelTicks, legend: ['tl', 35, 365], band: oilLevelBand, fill: 0.9, lw: 1,
    legendLine: '#c87a5a' },
  { name: 'Magnetic oil gauge indicator', color: '#ee20ee', titleColor: '#e03ce0', box: [422, 343, 409, 123], plot: [444, 362, 827, 443], tg: 14,
    yName: 'Height (cm)', yMin: -0.22, yMax: 1.19, yTicks: binaryTicks, bin: true, legend: ['tr', 825, 367], step: magneticGauge,
    legendLine: '#f070b0' },
  { name: 'Phase Line 1', color: '#14e6e6', titleColor: '#3ae4f2', box: [13, 492, 377, 132], plot: [33, 511, 388, 599], tg: 16,
    yName: 'Voltage (V)', yMin: -55, yMax: 314, yTicks: phaseTicks, legend: ['br', 383, 596], band: phase1Band, spikes: phase1Spikes,
    fill: 0.95, lw: 1.2, outerBg: '#d9e7f8', plotBg: '#e4e0b3' },
  { name: 'Phase Line 2', color: '#800080', titleColor: '#8a2a9a', box: [422, 493, 409, 131], plot: [443, 512, 828, 600], tg: 15,
    yName: 'Voltage (V)', yMin: -55, yMax: 314, yTicks: phaseTicks, legend: ['br', 825, 594], band: phase2Band, spikes: phase2Spikes,
    fill: 0.95, lw: 1.2, legendLine: '#d07090' },
  { name: 'Phase Line 3', color: '#f5f500', titleColor: '#eeee22', box: [13, 650, 377, 128], plot: [32, 668, 388, 752], tg: 15,
    yName: 'Voltage (V)', yMin: -55, yMax: 314, yTicks: phaseTicks, legend: ['br', 383, 750], band: phase3Band, spikes: phase3Spikes,
    fill: 0.95, lw: 1.2, outerBg: '#d9e7f8', plotBg: '#e4e0b3' },
  { name: 'Current Line 1', color: '#000000', titleColor: '#222222', box: [423, 650, 408, 128], plot: [445, 668, 828, 753], tg: 15,
    yName: 'Current (A)', yMin: -42, yMax: 267, yTicks: currentTicks, legend: ['tr', 825, 674], band: current1Band,
    spikes: current1Spikes, fill: 0.88, lw: 0.8 },
  { name: 'Current Line 2', color: '#ffb3c6', titleColor: '#f2b0c8', box: [13, 806, 377, 132], plot: [34, 824, 386, 913], tg: 15,
    yName: 'Current (A)', yMin: -56, yMax: 304, yTicks: current2Ticks, legend: ['tr', 383, 829], band: current2Band,
    spikes: current2Spikes, fill: 0.9, lw: 0.8 },
  { name: 'Current Line 3', color: '#14ee14', titleColor: '#33dd33', box: [422, 806, 409, 132], plot: [445, 824, 828, 912], tg: 15,
    yName: 'Current (A)', yMin: -42, yMax: 267, yTicks: currentTicks, legend: ['tr', 825, 829], band: current3Band,
    spikes: current3Spikes, fill: 0.9, lw: 0.8, legendLine: '#c0c060' },
  { name: 'Voltage Line 1-2', color: '#0f8074', titleColor: '#2a9aa0', box: [17, 965, 380, 131], plot: [33, 986, 393, 1072], tg: 14,
    yName: 'Voltage (V)', yMin: -105, yMax: 522, yTicks: lineVoltTicks, legend: ['br', 390, 1067], band: volt12Band,
    spikes: volt12Spikes, fill: 0.95, lw: 1.2, legendLine: '#70a090' },
  { name: 'Voltage Line 2-3', color: '#e0b800', titleColor: '#f0c228', box: [428, 965, 403, 131], plot: [447, 985, 828, 1070], tg: 14,
    yName: 'Voltage (V)', yMin: -100, yMax: 530, yTicks: lineVoltTicks, legend: ['br', 825, 1066], band: volt23Band,
    spikes: volt23Spikes, fill: 0.95, lw: 1.2, outerBg: '#fbfbe6', plotBg: '#fbf8cc', legendBg: '#f9c98f' },
  { name: 'Voltage Line 3-1', color: '#14144a', titleColor: '#111111', box: [58, 1122, 340, 140], plot: [77, 1143, 393, 1233], tg: 16,
    yName: 'Voltage (V)', yMin: -87, yMax: 533, yTicks: lineVoltTicks, legend: ['br', 390, 1230], band: volt31Band,
    spikes: volt31Spikes, spikeColor: '#9c9cd2', fill: 0.95, lw: 1.2 },
  { name: 'Neutral Current', color: '#7a7a7a', titleColor: '#333333', box: [428, 1122, 356, 140], plot: [448, 1143, 780, 1235], tg: 15,
    yName: 'Current (A)', yMin: -33, yMax: 177, yTicks: neutralTicks, legend: ['tr', 778, 1148], band: neutralBand,
    spikes: neutralSpikes, fill: 0.92, lw: 0.5, lineColor: '#5e7d58', spikeColor: '#777777',
    plotBg: '#fcf8cc', legendBg: '#f8c88e', legendLine: '#55552a' },
];

function buildOption(p) {
  const [bx, by, bw, bh] = p.box;
  const [pl, pt, pr, pb] = p.plot;
  const innerW = bw - 4;
  const innerH = bh - 4;
  const gl = pl - bx - 2;
  const gt = pt - by - 2;
  const gr = innerW - (pr - bx - 2);
  const gb = innerH - (pb - by - 2);
  const [anchor, lx, ly] = p.legend;
  const legendPos: any = {};
  if (anchor === 'tl') { legendPos.left = lx - bx - 2; legendPos.top = ly - by - 2; }
  if (anchor === 'tr') { legendPos.right = innerW - (lx - bx - 2); legendPos.top = ly - by - 2; }
  if (anchor === 'br') { legendPos.right = innerW - (lx - bx - 2); legendPos.bottom = innerH - (ly - by - 2); }
  const gridLine = { show: true, lineStyle: { color: '#e3ddc2', width: 0.8 } };
  const series: any[] = [];
  if (p.band && p.fill) {
    const fillColor = p.color;
    const op = p.fill;
    series.push({
      type: 'custom', coordinateSystem: 'cartesian2d', data: fillData(p.band), silent: true, clip: true,
      encode: { x: 0, y: [1, 2] },
      renderItem: (params, api) => {
        const i = params.dataIndexInside;
        const n = params.dataInsideLength;
        if (n != null && i + 1 >= n) return null;
        const s0 = api.value(3, i);
        const s1 = api.value(3, i + 1);
        if (s1 == null || isNaN(s1) || s0 !== s1) return null;
        const x0 = api.value(0, i);
        const x1 = api.value(0, i + 1);
        const a = api.coord([x0, api.value(1, i)]);
        const b = api.coord([x0, api.value(2, i)]);
        const c = api.coord([x1, api.value(2, i + 1)]);
        const d = api.coord([x1, api.value(1, i + 1)]);
        return {
          type: 'polygon', shape: { points: [a, b, c, d] },
          style: { fill: fillColor, opacity: op, stroke: fillColor, lineWidth: 0.4 },
        };
      },
    });
  }
  if (p.spikes) {
    series.push({
      type: 'line', data: spikePoints(p.spikes), symbol: 'none', silent: true, connectNulls: false,
      lineStyle: { color: p.spikeColor || p.color, width: 1 },
    });
  }
  series.push({
    name: p.name, type: 'line', data: p.band ? bandPoints(p.band) : stepPoints(p.step), showSymbol: false, symbol: 'none',
    step: p.step ? 'end' : false, connectNulls: false,
    lineStyle: { color: p.lineColor || p.color, width: p.lw || 1 }, itemStyle: { color: p.legendLine || p.color },
  });
  return {
    animation: false,
    title: {
      text: p.name, left: (pl + pr) / 2 - bx - 2, textAlign: 'center', top: 2,
      textStyle: { color: p.titleColor, fontSize: 11.5, fontWeight: 'normal', fontFamily: TFONT },
    },
    legend: {
      data: [p.name], ...legendPos, orient: 'horizontal', icon: 'rect', itemWidth: 12, itemHeight: 1.6, itemGap: 4,
      padding: [5, 5], backgroundColor: p.legendBg || '#efcfa4', borderColor: '#d8b487', borderWidth: 0.6, borderRadius: 3,
      shadowBlur: 2, shadowColor: 'rgba(0,0,0,0.25)', shadowOffsetX: 1, shadowOffsetY: 1,
      textStyle: { fontSize: 6.8, color: '#222', fontFamily: TFONT },
    },
    grid: {
      left: gl, top: gt, right: gr, bottom: gb, show: true, containLabel: false, outerBoundsMode: 'none',
      backgroundColor: p.plotBg || '#f7f3d6', borderColor: '#f2a2a2', borderWidth: 1,
    },
    xAxis: {
      type: 'value', min: toTs(xMinDate), max: toTs(xMaxDate), scale: true,
      axisLine: { show: false }, axisTick: { show: false, customValues: xTicks },
      axisLabel: { customValues: xTicks, formatter: fmtMonth, fontSize: 4.5, color: '#c2496a', margin: 4, showMinLabel: true, showMaxLabel: true },
      splitLine: gridLine,
      name: 'Time', nameLocation: 'middle', nameGap: p.tg - 5, nameMoveOverlap: false,
      nameTextStyle: { color: '#a3a340', fontSize: 8.5, fontFamily: TFONT },
    },
    yAxis: {
      type: 'value', min: p.yMin, max: p.yMax,
      axisLine: { show: false }, axisTick: { show: false, customValues: p.yTicks },
      axisLabel: {
        customValues: p.yTicks, fontSize: 4.3, color: '#c2496a', margin: 3, showMinLabel: true, showMaxLabel: true,
        formatter: (v) => (p.bin ? Number(v).toFixed(2) : String(Math.round(v))),
      },
      splitLine: gridLine,
      name: p.yName, nameLocation: 'middle', nameGap: Math.max(8, gl - 6.5), nameRotate: 90, nameMoveOverlap: false,
      nameTextStyle: { color: '#a0a03c', fontSize: 6, fontFamily: 'DejaVu Sans' },
    },
    series,
  };
}

function Panel({ p }) {
  const ref = useRef(null);
  const [bx, by, bw, bh] = p.box;
  useEffect(() => {
    if (!ref.current) return;
    const chart = echarts.init(ref.current, null, { renderer: 'svg', width: bw - 4, height: bh - 4 });
    chart.setOption(buildOption(p));
    return () => chart.dispose();
  }, []);
  return (
    <div style={{
      position: 'absolute', left: bx, top: by, width: bw, height: bh, boxSizing: 'border-box',
      border: '2px solid #cf3030', background: p.outerBg || '#eef5fc',
      boxShadow: '1px 1px 3px rgba(0,0,0,0.45)',
    }}>
      <div ref={ref} style={{ width: bw - 4, height: bh - 4 }} />
    </div>
  );
}

export default function App() {
  return (
    <div style={{ position: 'absolute', left: 0, top: 0, width: 832, height: 1259, overflow: 'hidden', background: '#ffffff' }}>
      {panels.map((p) => <Panel key={p.name} p={p} />)}
    </div>
  );
}
